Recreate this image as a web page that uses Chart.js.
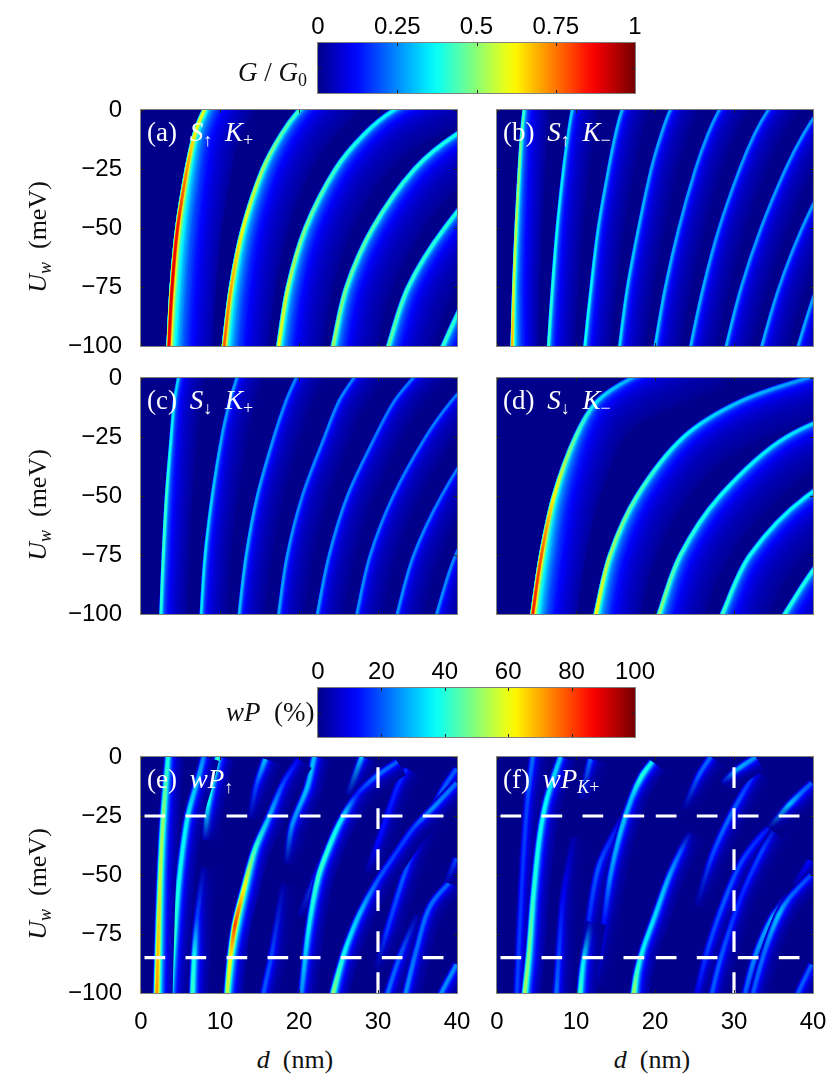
<!DOCTYPE html>
<html>
<head>
<meta charset="utf-8">
<title>G/G0 and wP maps</title>
<script src="https://cdn.jsdelivr.net/npm/chart.js@4/dist/chart.umd.min.js"></script>
<style>
  html, body { margin: 0; padding: 0; background: #fff; }
  #page { position: relative; width: 830px; height: 1090px; overflow: hidden; }
  canvas { position: absolute; }
  .lbl { position: absolute; font-family: "Liberation Serif", serif; font-size: 26px; white-space: nowrap; color: #111; line-height: 1; }
  .lbl i { font-style: italic; }
  .lbl sub { font-size: 18px; line-height: 0; vertical-align: -5px; }
  .ylab { transform: translate(-50%, -50%) rotate(-90deg); }
  .xlab { transform: translate(-50%, -50%); }
  .tag { color: #fff; font-size: 27px; word-spacing: 6px; }
  .cbar { font-size: 27px; }
</style>
</head>
<body>
<div id="page"></div>
<script>
'use strict';

// tick labels
var yTicks = [0, -25, -50, -75, -100];
var xTicks = [0, 10, 20, 30, 40];
var gTicks = [0, 0.25, 0.5, 0.75, 1];
var pTicks = [0, 20, 40, 60, 80, 100];

// Uw levels where the ridges of panels a-d were read (the last one runs off the top)
var uLevels = [-100, -75, -50, -25, -10, 0, 10];

// (a) S up K+ : d (nm) of each ridge, and G/G0 along it
var aRidges = [
  [3.5, 3.9, 4.6, 5.8, 6.8, 8.0, 9.7],
  [10.5, 11.4, 12.9, 15.4, 17.8, 20.0, 23.0],
  [17.4, 18.6, 20.8, 24.6, 28.3, 32.0, 38.0],
  [24.3, 26.0, 29.3, 34.6, 40.0, 46.0, 54.0],
  [31.3, 33.8, 38.4, 45.0, 52.0, 60.0, 68.0],
  [38.2, 41.8, 47.0, 55.0, 63.0, 70.0, 78.0]
];
var aValues = [
  [0.88, 0.9, 0.85, 0.72, 0.62, 0.58],
  [0.78, 0.7, 0.6, 0.52, 0.45, 0.42],
  [0.6, 0.55, 0.48, 0.42, 0.38, 0.36],
  [0.52, 0.47, 0.44, 0.4, 0.38, 0.36],
  [0.46, 0.42, 0.4, 0.38, 0.36, 0.35],
  [0.42, 0.4, 0.38, 0.36, 0.35, 0.35]
];

// (b) S up K-
var bRidges = [
  [1.9, 2.1, 2.4, 2.8, 3.1, 3.4, 3.8],
  [6.5, 7.0, 7.6, 8.4, 9.0, 9.5, 10.2],
  [11.1, 11.9, 12.8, 14.1, 15.0, 15.8, 17.0],
  [15.5, 16.5, 17.9, 19.5, 20.8, 21.9, 23.5],
  [20.0, 21.3, 23.0, 25.1, 26.7, 28.1, 30.0],
  [24.5, 26.1, 28.1, 30.7, 32.6, 34.3, 36.5],
  [29.0, 30.9, 33.4, 36.5, 38.8, 40.8, 43.5],
  [33.5, 35.7, 38.6, 42.3, 45.0, 47.3, 50.0],
  [38.1, 40.5, 43.8, 47.8, 51.0, 53.5, 57.0]
];
var bValues = [
  [0.7, 0.58, 0.55, 0.5, 0.46, 0.42],
  [0.42, 0.4, 0.36, 0.34, 0.32, 0.32],
  [0.38, 0.36, 0.32, 0.3, 0.3, 0.3],
  [0.34, 0.32, 0.3, 0.28, 0.28, 0.28],
  [0.32, 0.3, 0.28, 0.27, 0.27, 0.27],
  [0.3, 0.29, 0.27, 0.27, 0.27, 0.27],
  [0.3, 0.28, 0.27, 0.27, 0.27, 0.27],
  [0.29, 0.27, 0.27, 0.27, 0.27, 0.27],
  [0.29, 0.27, 0.27, 0.27, 0.27, 0.27]
];

// (c) S down K+
var cRidges = [
  [2.5, 2.8, 3.2, 3.8, 4.2, 4.7, 5.2],
  [7.6, 8.1, 9.0, 10.2, 11.2, 12.1, 13.0],
  [12.4, 13.3, 14.7, 16.8, 18.3, 19.6, 21.0],
  [17.4, 18.5, 20.4, 23.2, 25.0, 26.9, 29.0],
  [22.3, 23.8, 26.1, 29.6, 32.0, 34.4, 37.0],
  [27.3, 29.0, 31.9, 36.0, 39.2, 42.0, 45.0],
  [32.4, 34.5, 38.0, 42.7, 46.5, 50.0, 54.0],
  [37.4, 39.8, 43.8, 49.0, 53.0, 57.0, 61.0]
];
var cValues = [
  [0.4, 0.42, 0.42, 0.36, 0.34, 0.32],
  [0.34, 0.34, 0.32, 0.28, 0.27, 0.27],
  [0.3, 0.3, 0.28, 0.26, 0.25, 0.25],
  [0.28, 0.27, 0.25, 0.25, 0.25, 0.24],
  [0.27, 0.26, 0.25, 0.24, 0.24, 0.24],
  [0.26, 0.25, 0.24, 0.24, 0.24, 0.24],
  [0.26, 0.25, 0.24, 0.24, 0.24, 0.24],
  [0.26, 0.25, 0.24, 0.24, 0.24, 0.24]
];

// (d) S down K-
var dRidges = [
  [4.5, 5.6, 7.2, 9.9, 12.6, 17.0, 24.0],
  [12.5, 14.3, 17.7, 23.6, 30.7, 39.2, 50.0],
  [20.5, 23.2, 28.2, 36.6, 48.0, 60.0, 72.0],
  [28.5, 32.0, 39.2, 52.0, 65.0, 75.0, 90.0],
  [36.4, 41.5, 50.0, 62.0, 72.0, 80.0, 95.0]
];
var dValues = [
  [0.84, 0.78, 0.62, 0.45, 0.34, 0.28],
  [0.62, 0.52, 0.44, 0.36, 0.3, 0.26],
  [0.5, 0.42, 0.38, 0.34, 0.3, 0.3],
  [0.42, 0.38, 0.36, 0.32, 0.3, 0.3],
  [0.4, 0.38, 0.36, 0.32, 0.3, 0.3]
];

// (e) wP up : streaks with their own Uw ranges
var eD = [
  [6.5, 6.7, 7.1, 7.9],
  [15.5, 16.5, 18.0],
  [13.8, 14.6, 15.7],
  [18.4, 19.1, 21.0, 21.9],
  [26.2, 27.9],
  [28.6, 30.0, 32.4, 33.6],
  [29.8, 31.1, 33.2, 34.9, 36.4],
  [31.2, 32.8, 34.9],
  [33.5, 34.9, 36.6, 39.9],
  [38.0, 39.9],
  [38.7, 39.9],
  [34.7, 37.0, 38.3, 39.9],
  [20.1, 22.7, 25.2],
  [20.3, 21.2, 22.4, 23.9, 25.4, 27.3, 29.8, 32.4],
  [24.3, 25.0, 26.0, 27.7, 29.8, 32.4, 34.5, 36.8, 39.9],
  [8.1, 8.5, 9.7],
  [3.7, 4.0, 4.8, 5.9, 7.3, 7.9],
  [10.9, 11.3, 11.9, 13.0, 14.4, 16.1, 18.0, 19.9],
  [1.98, 2.1, 2.4, 2.8, 3.4]
];
var eU = [
  [-100, -85, -68, -47],
  [-100, -84, -54],
  [-26, -12, -1],
  [-45, -29, -13, 0],
  [-16, 0],
  [-49, -36, -13, -5],
  [-90, -74, -51, -36, -26],
  [-100, -84, -67],
  [-100, -81, -63, -50],
  [-100, -88],
  [-53, -43],
  [-29, -21, -13, -5],
  [-67, -46, -27],
  [-100, -73, -51, -37, -26, -16, -8, -2],
  [-100, -91, -80, -66, -53, -40, -30, -22, -11],
  [-35, -20, 0],
  [-100, -85, -52, -25, -8, 0],
  [-100, -85, -71, -56, -39, -26, -11, -1],
  [-100, -85, -52, -25, 0]
];
var eV = [
  [0.42, 0.38, 0.18, 0.03],
  [0.2, 0.18, 0.03],
  [0.03, 0.18, 0.3],
  [0.03, 0.25, 0.3, 0.3],
  [0.03, 0.3],
  [0.02, 0.12, 0.15, 0.15],
  [0.02, 0.17, 0.2, 0.15, 0.05],
  [0.22, 0.2, 0.03],
  [0.25, 0.22, 0.22, 0.2],
  [0.25, 0.25],
  [0.03, 0.18],
  [0.02, 0.22, 0.2, 0.2],
  [0.03, 0.2, 0.1],
  [0.25, 0.35, 0.42, 0.4, 0.35, 0.15, 0.22, 0.2],
  [0.5, 0.42, 0.35, 0.3, 0.2, 0.17, 0.18, 0.25, 0.22],
  [0.05, 0.36, 0.42],
  [0.45, 0.42, 0.38, 0.35, 0.28, 0.25],
  [0.55, 0.62, 0.8, 0.62, 0.42, 0.3, 0.18, 0.1],
  [0.72, 0.68, 0.55, 0.5, 0.38]
];

// (f) wP K+
var fD = [
  [7.5, 7.8, 8.4, 9.7],
  [10.7, 11.8],
  [25.3, 27.2, 29.5, 32.7],
  [23.7, 25.5, 27.0],
  [37.7, 39.6],
  [28.6, 30.5, 32.7],
  [25.3, 26.8, 29.1, 31.0, 33.5, 35.8],
  [27.2, 28.4, 30.8, 33.5, 35.8],
  [31.4, 32.7, 34.8, 36.7],
  [32.4, 33.9, 35.6, 36.9, 39.7],
  [34.5, 37.0, 38.5, 39.8],
  [38.1, 39.8],
  [2.5, 3.1, 3.8, 4.5],
  [10.9, 12.8, 15.8],
  [12.4, 13.5, 14.3, 15.6, 17.0, 18.3, 19.6],
  [10.5, 10.9, 11.8],
  [17.3, 17.7, 18.5, 20.0, 21.7, 23.2, 24.4],
  [3.5, 4.0, 4.6, 5.4, 6.3, 8.0]
];
var fU = [
  [-100, -84, -58, -34],
  [-17.5, -1],
  [-63, -42, -25, -6],
  [-22, -8, 0],
  [-54, -44],
  [-11, -5, 0],
  [-100, -80, -58, -44, -33, -26],
  [-100, -84, -60, -40, -27],
  [-100, -84, -68, -59],
  [-100, -82, -67, -60, -50],
  [-30, -20, -15, -11],
  [-100, -88],
  [-100, -56, -20, 0],
  [-87, -47, -26],
  [-97, -71, -51, -32, -17.5, -8, -2],
  [-100, -87, -70],
  [-100, -91, -81, -67, -51, -40, -32],
  [-100, -84, -58, -33, -17.5, 0]
];
var fV = [
  [0.22, 0.18, 0.1, 0.03],
  [0.03, 0.22],
  [0.02, 0.18, 0.22, 0.15],
  [0.02, 0.2, 0.22],
  [0.03, 0.12],
  [0.05, 0.28, 0.25],
  [0.1, 0.18, 0.2, 0.18, 0.15, 0.05],
  [0.2, 0.2, 0.15, 0.18, 0.05],
  [0.2, 0.25, 0.28, 0.1],
  [0.2, 0.22, 0.3, 0.22, 0.18],
  [0.02, 0.3, 0.22, 0.2],
  [0.2, 0.2],
  [0.18, 0.16, 0.18, 0.22],
  [0.1, 0.2, 0.1],
  [0.03, 0.12, 0.25, 0.3, 0.3, 0.4, 0.35],
  [0.42, 0.35, 0.05],
  [0.52, 0.42, 0.35, 0.33, 0.28, 0.2, 0.03],
  [0.52, 0.48, 0.4, 0.38, 0.36, 0.3]
];

// marker lines in panels e and f
var markD = [30];
var markU = [-25, -85];

var PX_D = 316 / 40, PX_U = 236 / 100;

// fraction of the peak, px to the left, px to the right
var wideLayers = [[0.03, 2, 44], [0.06, 2, 38], [0.1, 2, 30], [0.16, 2, 22], [0.24, 2.2, 15], [0.34, 2.3, 10], [0.46, 2.2, 6], [0.62, 1.8, 3.6], [0.8, 1.4, 2.2], [1, 0.9, 1.3]];
var thinLayers = [[0.04, 1.5, 26], [0.1, 1.5, 20], [0.16, 1.5, 15], [0.24, 1.5, 10], [0.34, 1.5, 6.5], [0.5, 1.4, 3.5], [0.7, 1.1, 2], [0.85, 0.9, 1.3], [1, 0.6, 0.8]];
var streakLayers = [[0.05, 4, 16], [0.1, 4, 12], [0.18, 3.6, 9], [0.28, 3.2, 7], [0.4, 2.8, 5.2], [0.55, 2.4, 3.8], [0.7, 2, 2.8], [0.85, 1.5, 2], [1, 1, 1.3]];

function clamp01(v) { return Math.max(0, Math.min(1, v)); }

function jet(v) {
  var t = v + 0.01;
  var r = clamp01(1.5 - Math.abs(4 * t - 3));
  var g = clamp01(1.5 - Math.abs(4 * t - 2));
  var b = clamp01(1.5 - Math.abs(4 * t - 1));
  return 'rgb(' + Math.round(r * 255) + ',' + Math.round(g * 255) + ',' + Math.round(b * 255) + ')';
}

// three in-between steps for each step of a layer table, so the bands do not show
function refine(layers) {
  var out = [];
  layers.forEach(function(l, i) {
    if (i === 0) { out.push(l); return; }
    var p = layers[i - 1];
    [1 / 3, 2 / 3, 1].forEach(function(t) {
      out.push([p[0] + (l[0] - p[0]) * t, p[1] + (l[1] - p[1]) * t, p[2] + (l[2] - p[2]) * t]);
    });
  });
  return out;
}

// one ridge becomes a stack of lines, widest and dimmest first
function ridgeDatasets(d, u, v, layers, first, cap) {
  var xs = d, ys = u;
  // ridges that leave through the bottom get a lead-in below the frame, else the spline starts flat
  if (u[0] === -100) {
    xs = [d[0] - (d[1] - d[0]) * 20 / (u[1] - u[0]) * 0.85].concat(d);
    ys = [-120].concat(u);
  }
  return refine(layers).map(function(layer, k) {
    var shift = (layer[2] - layer[1]) / 2;
    var pts = xs.map(function(x, i) {
      var a = Math.max(i - 1, 0), b = Math.min(i + 1, xs.length - 1);
      var tx = (xs[b] - xs[a]) * PX_D, ty = (ys[b] - ys[a]) * PX_U;
      var len = Math.sqrt(tx * tx + ty * ty);
      return { x: x + (ty / len) * shift / PX_D, y: ys[i] - (tx / len) * shift / PX_U };
    });
    return {
      data: pts,
      showLine: true,
      pointRadius: 0,
      tension: 0.33,
      borderCapStyle: cap,
      borderWidth: layer[1] + layer[2],
      order: -(first + k),
      borderColor: function(ctx) {
        var chart = ctx.chart;
        if (!chart.chartArea) return jet(0);
        var y = chart.scales.y;
        var g = chart.ctx.createLinearGradient(0, y.getPixelForValue(-100), 0, y.getPixelForValue(0));
        v.forEach(function(val, i) {
          g.addColorStop(clamp01((u[i] + 100) / 100), jet(val * layer[0]));
        });
        return g;
      }
    };
  });
}

function markerDatasets() {
  var out = [];
  var dash = { pointRadius: 0, showLine: true, borderColor: '#fff', borderWidth: 3.2, tension: 0, order: -5000, sharp: true };
  markU.forEach(function(u) {
    out.push(Object.assign({}, dash, { data: [{ x: 0, y: u }, { x: 20, y: u }], borderDash: [20.7, 20.3], borderDashOffset: -3.5 }));
    out.push(Object.assign({}, dash, { data: [{ x: 20.1, y: u }, { x: 40, y: u }], borderDash: [20.7, 20.3] }));
  });
  markD.forEach(function(d) {
    out.push(Object.assign({}, dash, { data: [{ x: d, y: -100 }, { x: d, y: 0 }], borderDash: [20.7, 20.3] }));
  });
  return out;
}

// background, soft edges, grey frame and the small inward ticks
var framePlugin = {
  id: 'frame',
  beforeDatasetsDraw: function(chart) {
    var a = chart.chartArea;
    chart.ctx.save();
    chart.ctx.fillStyle = jet(0);
    chart.ctx.fillRect(a.left, a.top, a.width, a.height);
    chart.ctx.restore();
  },
  beforeDatasetDraw: function(chart, args) {
    if (chart.config.type === 'scatter' && !args.meta._dataset.sharp) chart.ctx.filter = 'blur(0.7px)';
  },
  afterDatasetDraw: function(chart) {
    chart.ctx.filter = 'none';
  },
  afterDraw: function(chart) {
    var a = chart.chartArea, c = chart.ctx;
    c.save();
    c.strokeStyle = '#222';
    c.lineWidth = 1;
    var xs = chart.scales.x;
    xs.ticks.forEach(function(t) {
      var p = Math.round(xs.getPixelForValue(t.value)) + 0.5;
      c.beginPath();
      c.moveTo(p, a.top); c.lineTo(p, a.top + 3);
      c.moveTo(p, a.bottom); c.lineTo(p, a.bottom - 3);
      c.stroke();
    });
    var ys = chart.scales.y;
    if (ys.type === 'linear') {
      ys.ticks.forEach(function(t) {
        var p = Math.round(ys.getPixelForValue(t.value)) + 0.5;
        c.beginPath();
        c.moveTo(a.left, p); c.lineTo(a.left + 3, p);
        c.moveTo(a.right, p); c.lineTo(a.right - 3, p);
        c.stroke();
      });
    } else {
      var mid = Math.round((a.top + a.bottom) / 2) + 0.5;
      c.beginPath();
      c.moveTo(a.left, mid); c.lineTo(a.left + 3, mid);
      c.moveTo(a.right, mid); c.lineTo(a.right - 3, mid);
      c.stroke();
    }
    c.strokeStyle = '#808080';
    c.strokeRect(a.left - 0.5, a.top - 0.5, a.width + 1, a.height + 1);
    c.restore();
  }
};

function noPad(axis) {
  axis.paddingTop = axis.paddingBottom = axis.paddingLeft = axis.paddingRight = 0;
}

function addCanvas(left, top, w, h) {
  var cv = document.createElement('canvas');
  cv.width = w;
  cv.height = h;
  cv.style.left = left + 'px';
  cv.style.top = top + 'px';
  cv.style.width = w + 'px';
  cv.style.height = h + 'px';
  document.getElementById('page').appendChild(cv);
  return cv.getContext('2d');
}

var tickFont = { family: '"Liberation Sans", Arial, sans-serif', size: 24 };

function panel(px, py, datasets, showX, showY) {
  var mL = showY ? 90 : 24, mR = 24, mT = 14, mB = showX ? 44 : 16;
  var ctx = addCanvas(px - mL, py - mT, mL + 316 + mR, mT + 236 + mB);
  return new Chart(ctx, {
    type: 'scatter',
    data: { datasets: datasets },
    plugins: [framePlugin],
    options: {
      responsive: false,
      animation: false,
      events: [],
      layout: { padding: { left: 0, right: mR, top: mT, bottom: 0 } },
      plugins: { legend: { display: false }, tooltip: { enabled: false } },
      scales: {
        x: {
          type: 'linear', min: 0, max: 40,
          grid: { display: false }, border: { display: false },
          afterBuildTicks: function(axis) { axis.ticks = xTicks.map(function(v) { return { value: v }; }); },
          afterFit: function(axis) { axis.height = mB; noPad(axis); },
          ticks: { display: showX, font: tickFont, color: '#000', padding: 6.5, maxRotation: 0, autoSkip: false, callback: function(v) { return String(v); } }
        },
        y: {
          type: 'linear', min: -100, max: 0,
          grid: { display: false }, border: { display: false },
          afterBuildTicks: function(axis) { axis.ticks = yTicks.map(function(v) { return { value: v }; }); },
          afterFit: function(axis) { axis.width = mL; noPad(axis); },
          ticks: { display: showY, font: tickFont, color: '#000', padding: 11, autoSkip: false, callback: function(v) { return String(v).replace('-', '\u2212'); } }
        }
      }
    }
  });
}

function colorbar(px, py, h, maxV, ticks) {
  var mL = 30, mR = 40, mT = 42;
  var ctx = addCanvas(px - mL, py - mT, mL + 317 + mR, mT + h + 2);
  return new Chart(ctx, {
    type: 'bar',
    data: {
      labels: [''],
      datasets: [{
        data: [maxV],
        barPercentage: 1,
        categoryPercentage: 1,
        borderWidth: 0,
        backgroundColor: function(c) {
          var chart = c.chart;
          if (!chart.chartArea) return jet(0);
          var g = chart.ctx.createLinearGradient(chart.chartArea.left, 0, chart.chartArea.right, 0);
          for (var i = 0; i <= 32; i++) g.addColorStop(i / 32, jet(i / 32));
          return g;
        }
      }]
    },
    plugins: [framePlugin],
    options: {
      indexAxis: 'y',
      responsive: false,
      animation: false,
      events: [],
      layout: { padding: { left: mL, right: mR, top: 0, bottom: 2 } },
      plugins: { legend: { display: false }, tooltip: { enabled: false } },
      scales: {
        x: {
          type: 'linear', position: 'top', min: 0, max: maxV,
          grid: { display: false }, border: { display: false },
          afterBuildTicks: function(axis) { axis.ticks = ticks.map(function(v) { return { value: v }; }); },
          afterFit: function(axis) { axis.height = mT; noPad(axis); },
          ticks: { font: tickFont, color: '#000', padding: -7, maxRotation: 0, autoSkip: false, callback: function(v) { return String(v); } }
        },
        y: { display: false }
      }
    }
  });
}

function build(dList, uList, vList, layers, cap) {
  var out = [];
  dList.forEach(function(d, i) {
    var u = uList[i] || uLevels;
    out = out.concat(ridgeDatasets(d, u, vList[i], layers, out.length, cap));
  });
  return out;
}

function label(html, x, y, cls) {
  var el = document.createElement('div');
  el.className = 'lbl ' + (cls || '');
  el.innerHTML = html;
  el.style.left = x + 'px';
  el.style.top = y + 'px';
  document.getElementById('page').appendChild(el);
}

panel(141, 110, build(aRidges, [], aValues, wideLayers, 'square'), false, true);
panel(497, 110, build(bRidges, [], bValues, thinLayers, 'square'), false, false);
panel(141, 378, build(cRidges, [], cValues, thinLayers, 'square'), false, true);
panel(497, 378, build(dRidges, [], dValues, wideLayers, 'square'), false, false);
panel(141, 757, build(eD, eU, eV, streakLayers, 'butt').concat(markerDatasets()), true, true);
panel(497, 757, build(fD, fU, fV, streakLayers, 'butt').concat(markerDatasets()), true, false);

colorbar(318, 43, 50, 1, gTicks);
colorbar(318, 688, 49, 100, pTicks);

var uwTitle = '<i>U<sub>w</sub></i>&nbsp; (meV)';
label(uwTitle, 38, 237, 'ylab');
label(uwTitle, 38, 505, 'ylab');
label(uwTitle, 38, 884, 'ylab');
label('<i>d</i>&nbsp; (nm)', 295, 1060, 'xlab');
label('<i>d</i>&nbsp; (nm)', 652, 1060, 'xlab');
label('<i>G</i> / <i>G</i><sub>0</sub>', 238, 59, 'cbar');
label('<i>wP</i>&nbsp; (%)', 226, 699, 'cbar');
label('(a) <i>S</i><sub>\u2191</sub> <i>K</i><sub>+</sub>', 147, 119, 'tag');
label('(b) <i>S</i><sub>\u2191</sub> <i>K</i><sub>\u2212</sub>', 503, 119, 'tag');
label('(c) <i>S</i><sub>\u2193</sub> <i>K</i><sub>+</sub>', 147, 387, 'tag');
label('(d) <i>S</i><sub>\u2193</sub> <i>K</i><sub>\u2212</sub>', 503, 387, 'tag');
label('(e) <i>wP</i><sub>\u2191</sub>', 147, 766, 'tag');
label('(f) <i>wP</i><sub><i>K</i>+</sub>', 503, 766, 'tag');
</script>
</body>
</html>
